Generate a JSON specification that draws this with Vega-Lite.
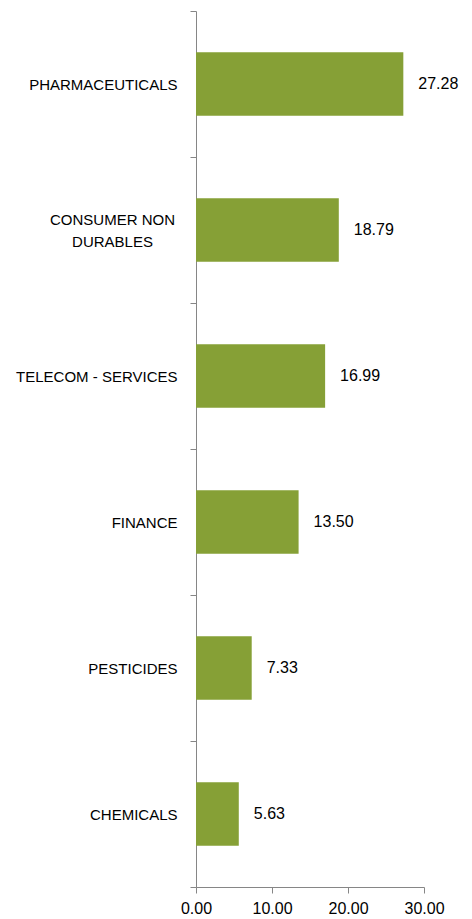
{
  "$schema": "https://vega.github.io/schema/vega-lite/v6.json",
  "width": 228,
  "height": 876,
  "autosize": {"type": "none"},
  "padding": {"left": 196, "top": 11, "right": 48, "bottom": 32},
  "background": "white",
  "config": {"view": {"stroke": null}, "font": "Liberation Sans"},
  "data": {
    "values": [
      {"sector": "PHARMACEUTICALS", "value": 27.28},
      {"sector": "CONSUMER NON DURABLES", "value": 18.79},
      {"sector": "TELECOM - SERVICES", "value": 16.99},
      {"sector": "FINANCE", "value": 13.50},
      {"sector": "PESTICIDES", "value": 7.33},
      {"sector": "CHEMICALS", "value": 5.63}
    ]
  },
  "encoding": {
    "y": {
      "field": "sector",
      "type": "nominal",
      "sort": null,
      "scale": {"paddingInner": 0, "paddingOuter": 0},
      "axis": {
        "title": null,
        "tickBand": "extent",
        "domainColor": "#868686",
        "tickColor": "#868686",
        "tickSize": 6,
        "labelFont": "Liberation Sans",
        "labelFontSize": 15,
        "labelColor": "#000000",
        "labelLineHeight": 22,
        "labelExpr": "datum.value == 'CONSUMER NON DURABLES' ? ['CONSUMER NON', 'DURABLES'] : datum.value",
        "labelAlign": {"condition": {"test": "datum.value == 'CONSUMER NON DURABLES'", "value": "center"}, "value": "right"},
        "labelOffset": {"condition": {"test": "datum.value == 'CONSUMER NON DURABLES'", "value": -11}, "value": 0},
        "labelPadding": {"condition": {"test": "datum.value == 'CONSUMER NON DURABLES'", "value": 78}, "value": 13}
      }
    },
    "x": {
      "field": "value",
      "type": "quantitative",
      "scale": {"domain": [0, 30], "nice": false},
      "axis": {
        "title": null,
        "values": [0, 10, 20, 30],
        "format": ".2f",
        "grid": false,
        "labelFlush": false,
        "labelOverlap": false,
        "domainColor": "#868686",
        "tickColor": "#868686",
        "tickSize": 6,
        "labelFont": "Liberation Sans",
        "labelFontSize": 16,
        "labelColor": "#000000",
        "labelPadding": 7
      }
    }
  },
  "layer": [
    {"mark": {"type": "bar", "color": "#86A036", "height": {"band": 0.435}}},
    {
      "mark": {"type": "text", "align": "left", "dx": 15, "fontSize": 16, "color": "#000000", "font": "Liberation Sans"},
      "encoding": {"text": {"field": "value", "type": "quantitative", "format": ".2f"}}
    }
  ]
}
